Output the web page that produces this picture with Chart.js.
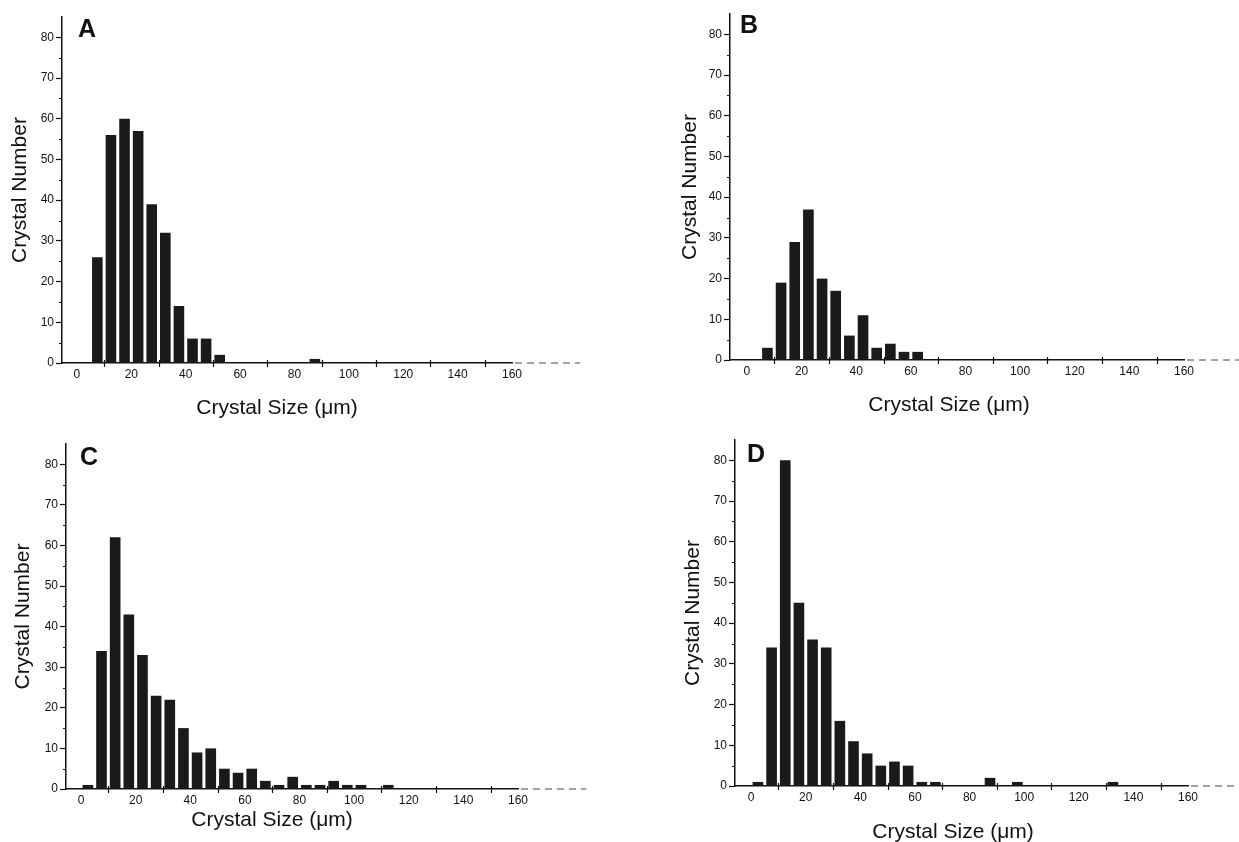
<!DOCTYPE html>
<html>
<head>
<meta charset="utf-8">
<title>Crystal size distributions</title>
<script src="https://cdn.jsdelivr.net/npm/chart.js@4.4.1/dist/chart.umd.min.js"></script>
<style>
  body { margin: 0; background: #fff; }
  #wrap { position: relative; width: 1239px; height: 842px; background: #fff; }
  canvas { position: absolute; }
</style>
</head>
<body>
<div id="wrap">
  <canvas id="chartA" width="620" height="420" style="left:0;top:0"></canvas>
  <canvas id="chartB" width="579" height="420" style="left:660px;top:0"></canvas>
  <canvas id="chartC" width="620" height="422" style="left:0;top:420px"></canvas>
  <canvas id="chartD" width="579" height="422" style="left:660px;top:420px"></canvas>
</div>
<script>
// bin centres, 5 um wide bins
const binCenters = [2.5, 7.5, 12.5, 17.5, 22.5, 27.5, 32.5, 37.5, 42.5, 47.5, 52.5, 57.5, 62.5, 67.5,
  72.5, 77.5, 82.5, 87.5, 92.5, 97.5, 102.5, 107.5, 112.5, 117.5, 122.5, 127.5, 132.5];

const countsA = [0, 26, 56, 60, 57, 39, 32, 14, 6, 6, 2, 0, 0, 0, 0, 0, 0, 1];
const countsB = [0, 3, 19, 29, 37, 20, 17, 6, 11, 3, 4, 2, 2];
const countsC = [1, 34, 62, 43, 33, 23, 22, 15, 9, 10, 5, 4, 5, 2, 1, 3, 1, 1, 2, 1, 1, 0, 1];
const countsD = [1, 34, 80, 45, 36, 34, 16, 11, 8, 5, 6, 5, 1, 1, 0, 0, 0, 2, 0, 1, 0, 0, 0, 0, 0, 0, 1];

const yTicks = [0, 10, 20, 30, 40, 50, 60, 70, 80];
const yMinor = [5, 15, 25, 35, 45, 55, 65, 75];
const xTicks = [0, 20, 40, 60, 80, 100, 120, 140, 160];
const xMarks = [10, 30, 50, 70, 90, 110, 130, 150];

const xTitle = "Crystal Size (\u03bcm)";
const yTitle = "Crystal Number";

const ink = "#111";
const fontFamily = "'Liberation Sans', Arial, sans-serif";

Chart.defaults.font.family = fontFamily;
Chart.defaults.color = ink;

// tick marks, dashed axis tail, panel letter and x title
const panelDecor = {
  id: "panelDecor",
  afterDraw(chart, args, o) {
    const { ctx, chartArea: a, scales: { x, y } } = chart;
    ctx.save();
    ctx.strokeStyle = ink;
    ctx.lineWidth = 1.2;
    ctx.beginPath();
    xMarks.forEach(v => {
      const px = Math.round(x.getPixelForValue(v)) + 0.5;
      ctx.moveTo(px, a.bottom - 3);
      ctx.lineTo(px, a.bottom + 4);
    });
    yMinor.forEach(v => {
      const py = Math.round(y.getPixelForValue(v)) + 0.5;
      ctx.moveTo(a.left - 3, py);
      ctx.lineTo(a.left, py);
    });
    ctx.stroke();

    ctx.setLineDash([7, 5]);
    ctx.lineWidth = 1;
    ctx.strokeStyle = "#444";
    ctx.beginPath();
    ctx.moveTo(a.right + 3, a.bottom);
    ctx.lineTo(x.getPixelForValue(o.tailTo), a.bottom);
    ctx.stroke();
    ctx.setLineDash([]);

    ctx.fillStyle = ink;
    ctx.font = "bold 25px " + fontFamily;
    ctx.textAlign = "left";
    ctx.textBaseline = "alphabetic";
    ctx.fillText(o.letter, a.left + o.letterDx, a.top + o.letterDy);

    ctx.font = "21px " + fontFamily;
    ctx.textAlign = "center";
    ctx.textBaseline = "middle";
    ctx.fillText(xTitle, a.left + o.titleDx, a.bottom + o.titleDy);
    ctx.restore();
  }
};

const drawPanel = (id, letter, counts, lay) => {
  new Chart(id, {
    type: "bar",
    data: {
      datasets: [{
        data: counts.map((c, i) => ({ x: binCenters[i], y: c })),
        backgroundColor: "#1a1a1a",
        borderWidth: 0,
        barPercentage: 0.78,
        categoryPercentage: 1
      }]
    },
    options: {
      responsive: false,
      animation: false,
      layout: { padding: lay.padding },
      plugins: {
        legend: { display: false },
        tooltip: { enabled: false },
        panelDecor: {
          letter: letter,
          letterDx: lay.letterDx,
          letterDy: lay.letterDy,
          titleDx: lay.titleDx,
          titleDy: lay.titleDy,
          tailTo: lay.tailTo
        }
      },
      scales: {
        x: {
          type: "linear",
          min: lay.xMin,
          max: 160,
          offset: false,
          afterBuildTicks: s => { s.ticks = xTicks.map(v => ({ value: v })); },
          afterFit: s => { s.height = lay.xHeight; },
          grid: { display: false, drawTicks: false, offset: false },
          border: { display: true, color: ink, width: 1.5 },
          ticks: { padding: 4, autoSkip: false, maxRotation: 0, font: { size: 12 } }
        },
        y: {
          min: 0,
          max: 85,
          afterBuildTicks: s => { s.ticks = yTicks.map(v => ({ value: v })); },
          afterFit: s => { s.width = lay.yWidth; },
          grid: { drawOnChartArea: false, tickLength: 6, tickColor: ink, tickWidth: 1.2 },
          border: { display: true, color: ink, width: 1.5 },
          ticks: { padding: 2, font: { size: 12 } },
          title: {
            display: true,
            text: yTitle,
            font: { size: 21 },
            padding: { top: lay.yTitlePad, bottom: 0 }
          }
        }
      }
    },
    plugins: [panelDecor]
  });
};

drawPanel("chartA", "A", countsA, {
  padding: { left: 0, top: 17, right: 108, bottom: 0 },
  yWidth: 62, xHeight: 57, xMin: -5.5, yTitlePad: 8,
  letterDx: 16, letterDy: 20, titleDx: 215, titleDy: 45, tailTo: 185
});
drawPanel("chartB", "B", countsB, {
  padding: { left: 0, top: 14, right: 55, bottom: 0 },
  yWidth: 70, xHeight: 60, xMin: -6.2, yTitlePad: 18,
  letterDx: 10, letterDy: 19, titleDx: 219, titleDy: 45, tailTo: 181
});
drawPanel("chartC", "C", countsC, {
  padding: { left: 0, top: 24, right: 102, bottom: 0 },
  yWidth: 66, xHeight: 53, xMin: -5.5, yTitlePad: 11,
  letterDx: 14, letterDy: 21, titleDx: 206, titleDy: 31, tailTo: 185
});
drawPanel("chartD", "D", countsD, {
  padding: { left: 0, top: 20, right: 51, bottom: 0 },
  yWidth: 75, xHeight: 56, xMin: -5.9, yTitlePad: 21,
  letterDx: 12, letterDy: 22, titleDx: 218, titleDy: 46, tailTo: 181
});
</script>
</body>
</html>
